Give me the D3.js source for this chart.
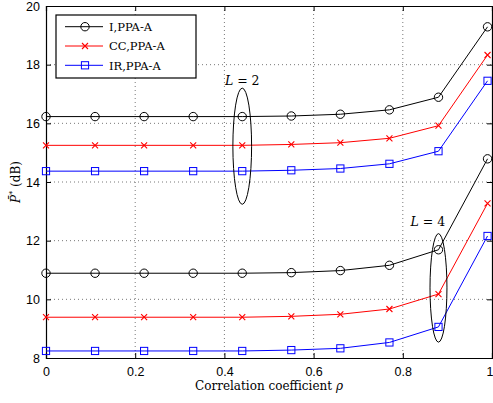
<!DOCTYPE html>
<html>
<head>
<meta charset="utf-8">
<script src="https://cdn.jsdelivr.net/npm/d3@7"></script>
<style>
  body { margin: 0; background: #fff; }
  svg { display: block; }
  .tick-label { font-family: "Liberation Sans", Arial, sans-serif; font-size: 12.5px; fill: #000; }
  .serif { font-family: "DejaVu Serif", "Liberation Serif", serif; fill: #000; }
</style>
</head>
<body>
<svg width="493" height="403"></svg>
<script>
const rho = [0, 0.11, 0.22, 0.33, 0.44, 0.55, 0.66, 0.77, 0.88, 0.99];

const iL2  = [16.23, 16.23, 16.23, 16.23, 16.23, 16.25, 16.31, 16.46, 16.89, 19.29];
const ccL2 = [15.25, 15.25, 15.25, 15.25, 15.25, 15.28, 15.34, 15.49, 15.92, 18.33];
const irL2 = [14.37, 14.37, 14.37, 14.37, 14.37, 14.40, 14.46, 14.62, 15.05, 17.45];

const iL4  = [10.89, 10.89, 10.89, 10.89, 10.89, 10.91, 10.98, 11.16, 11.69, 14.79];
const ccL4 = [9.39, 9.39, 9.39, 9.39, 9.39, 9.42, 9.49, 9.67, 10.18, 13.27];
const irL4 = [8.24, 8.24, 8.24, 8.24, 8.24, 8.27, 8.33, 8.53, 9.06, 12.16];

const xTicks = [0, 0.2, 0.4, 0.6, 0.8, 1];
const yTicks = [8, 10, 12, 14, 16, 18, 20];

const seriesNames = ["I,PPA-A", "CC,PPA-A", "IR,PPA-A"];
const seriesColors = ["#000000", "#ff0000", "#0000ff"];
const seriesMarkers = ["circle", "cross", "square"];

// ellipse groups: label, centre, half sizes (data units), label position
const groups = [
  { label: "2", cx: 0.44, cy: 15.22, rx: 0.021, ry: 1.98, lx: 0.44, ly: 17.3 },
  { label: "4", cx: 0.88, cy: 10.39, rx: 0.019, ry: 1.85, lx: 0.856, ly: 12.5 }
];

const svg = d3.select("svg");
const mLeft = 46, mRight = 492, mTop = 6, mBottom = 358;

const x = d3.scaleLinear().domain([0, 1]).range([mLeft, mRight]);
const y = d3.scaleLinear().domain([8, 20]).range([mBottom, mTop]);

// grid
const grid = svg.append("g")
  .attr("stroke", "#555")
  .attr("stroke-width", 0.8)
  .attr("stroke-dasharray", "1,3");
grid.selectAll(".gx").data(xTicks.slice(1, -1)).enter().append("line")
  .attr("x1", d => x(d)).attr("x2", d => x(d))
  .attr("y1", mTop).attr("y2", mBottom);
grid.selectAll(".gy").data(yTicks.slice(1, -1)).enter().append("line")
  .attr("x1", mLeft).attr("x2", mRight)
  .attr("y1", d => y(d)).attr("y2", d => y(d));

// axes with inward ticks
const xAxis = d3.axisBottom(x).tickValues(xTicks).tickSize(-5).tickPadding(9)
  .tickFormat(d => d3.format("~g")(d));
const yAxis = d3.axisLeft(y).tickValues(yTicks).tickSize(-5).tickPadding(6);

const gx = svg.append("g").attr("transform", `translate(0,${mBottom})`).call(xAxis);
svg.append("g").attr("transform", `translate(${mLeft},0)`).call(yAxis);
svg.append("g").attr("transform", `translate(0,${mTop})`)
  .call(d3.axisTop(x).tickValues(xTicks).tickSize(-5).tickFormat(""));
svg.append("g").attr("transform", `translate(${mRight},0)`)
  .call(d3.axisRight(y).tickValues(yTicks).tickSize(-5).tickFormat(""));

svg.selectAll(".domain").attr("stroke", "#000").attr("stroke-width", 1.2);
svg.selectAll(".tick line").attr("stroke", "#000");
svg.selectAll(".tick text").attr("class", "tick-label").attr("font-size", null).attr("font-family", null);
// last x label sits at the window edge: keep it inside
gx.selectAll(".tick text").filter(d => d === 1).attr("text-anchor", "end").attr("dx", 1);

const line = d3.line().x(d => x(d[0])).y(d => y(d[1]));

function drawMarker(g, type, color, px, py) {
  if (type === "circle") {
    g.append("circle").attr("cx", px).attr("cy", py).attr("r", 4.2)
      .attr("fill", "none").attr("stroke", color).attr("stroke-width", 1);
  } else if (type === "square") {
    g.append("rect").attr("x", px - 3.6).attr("y", py - 3.6)
      .attr("width", 7.2).attr("height", 7.2)
      .attr("fill", "none").attr("stroke", color).attr("stroke-width", 1);
  } else {
    const s = 3;
    g.append("path")
      .attr("d", `M${px - s},${py - s}L${px + s},${py + s}M${px - s},${py + s}L${px + s},${py - s}`)
      .attr("stroke", color).attr("stroke-width", 1.1).attr("fill", "none");
  }
}

const plotG = svg.append("g");
const allSeries = [
  [iL2, 0], [ccL2, 1], [irL2, 2],
  [iL4, 0], [ccL4, 1], [irL4, 2]
];
allSeries.forEach(([vals, k]) => {
  const pts = rho.map((r, i) => [r, vals[i]]);
  plotG.append("path").datum(pts)
    .attr("d", line)
    .attr("fill", "none")
    .attr("stroke", seriesColors[k])
    .attr("stroke-width", 1);
  pts.forEach(p => drawMarker(plotG, seriesMarkers[k], seriesColors[k], x(p[0]), y(p[1])));
});

// ellipses and labels
groups.forEach(gr => {
  svg.append("ellipse")
    .attr("cx", x(gr.cx)).attr("cy", y(gr.cy))
    .attr("rx", x(gr.rx) - x(0)).attr("ry", y(8) - y(8 + gr.ry))
    .attr("fill", "none").attr("stroke", "#000").attr("stroke-width", 1);
  const t = svg.append("text").attr("class", "serif")
    .attr("x", x(gr.lx)).attr("y", y(gr.ly))
    .attr("text-anchor", "middle").attr("font-size", 12.5);
  t.append("tspan").attr("font-style", "italic").text("L");
  t.append("tspan").text(" = " + gr.label);
});

// legend
const lg = svg.append("g").attr("transform", "translate(56,15)");
lg.append("rect").attr("width", 140).attr("height", 63)
  .attr("fill", "#fff").attr("stroke", "#000").attr("stroke-width", 1.2);
seriesNames.forEach((name, i) => {
  const yy = 11.7 + i * 19.3;
  lg.append("line").attr("x1", 9).attr("x2", 47).attr("y1", yy).attr("y2", yy)
    .attr("stroke", seriesColors[i]).attr("stroke-width", 1);
  drawMarker(lg, seriesMarkers[i], seriesColors[i], 29, yy);
  lg.append("text").attr("class", "serif").attr("x", 53).attr("y", yy + 4.3)
    .attr("font-size", 11.5).text(name);
});

// axis labels
const xl = svg.append("text").attr("class", "serif")
  .attr("x", (mLeft + mRight) / 2).attr("y", 390)
  .attr("text-anchor", "middle").attr("font-size", 12);
xl.append("tspan").text("Correlation coefficient ");
xl.append("tspan").attr("font-style", "italic").text("ρ");

const yl = svg.append("text").attr("class", "serif")
  .attr("transform", `translate(20,${(mTop + mBottom) / 2}) rotate(-90)`)
  .attr("text-anchor", "middle").attr("font-size", 12);
yl.append("tspan").attr("font-style", "italic").text("P̄");
yl.append("tspan").attr("font-size", 8).attr("dy", -5).text("*");
yl.append("tspan").attr("dy", 5).text(" (dB)");
</script>
</body>
</html>
